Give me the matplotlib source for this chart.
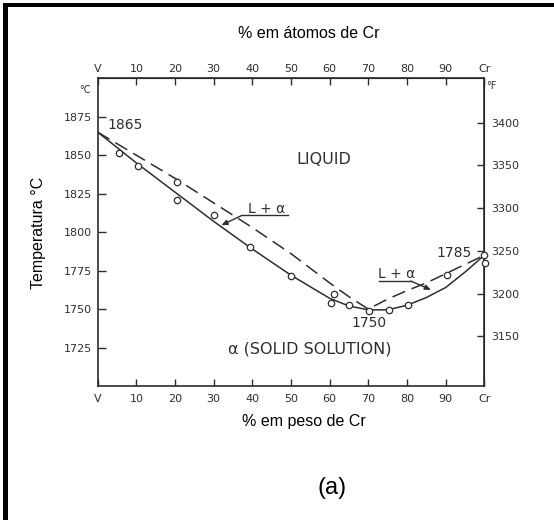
import matplotlib.pyplot as plt
import matplotlib.transforms as mtransforms
from matplotlib.patches import Rectangle

# V-Cr phase diagram: liquidus (dashed), solidus (solid) and measured points
wt_pct = [0, 10, 20, 30, 40, 50, 60, 65, 70, 75, 80, 85, 90, 95, 100]
solidus_c = [1865, 1845, 1826, 1807, 1789, 1772, 1757, 1752, 1749.5, 1749.5,
             1752.5, 1757.5, 1764, 1774, 1785]
liquidus_c = [1865, 1850, 1835, 1819, 1803, 1786, 1767, 1758, 1750, 1756.5,
              1762, 1767, 1773, 1779, 1785]

exp_wt = [5.5, 10.5, 20.4, 20.4, 30.2, 39.4, 49.9, 60.3, 61, 65.1, 70.3,
          75.3, 80.3, 90.3, 100, 100.3]
exp_c = [1851.6, 1843, 1832.5, 1820.6, 1811, 1790.5, 1771.5, 1754, 1760,
         1752.5, 1749, 1749.2, 1752.7, 1772.4, 1785, 1779.7]

x_ticks = [0, 10, 20, 30, 40, 50, 60, 70, 80, 90, 100]
x_labels = ['V', '10', '20', '30', '40', '50', '60', '70', '80', '90', 'Cr']
c_ticks = [1725, 1750, 1775, 1800, 1825, 1850, 1875]
f_ticks = [3150, 3200, 3250, 3300, 3350, 3400]

ink = '#2e2e2e'
W, H = 554, 520

fig = plt.figure(figsize=(W / 100, H / 100), dpi=100)
ax = fig.add_axes([97.7 / W, 1 - 386 / H, 386.6 / W, 307.7 / H])

ax.plot(wt_pct, solidus_c, color=ink, lw=1.1)
ax.plot(wt_pct, liquidus_c, color=ink, lw=1.1, dashes=(9, 4.5))
ax.plot(exp_wt, exp_c, 'o', mfc='white', mec=ink, ms=4.6, mew=0.9,
        clip_on=False, zorder=3)

ax.set_xlim(0, 100)
ax.set_ylim(1700, 1900)
for s in ax.spines.values():
    s.set_color(ink)
    s.set_linewidth(1.2)

ax.set_xticks(x_ticks)
ax.set_xticklabels(x_labels)
ax.set_yticks(c_ticks)
ax.tick_params(axis='x', direction='in', length=5, width=1, colors=ink,
               labelsize=8, pad=6)
ax.tick_params(axis='y', direction='in', length=6, width=1, colors=ink,
               labelsize=8, pad=4)

top = ax.secondary_xaxis('top')
top.set_xticks(x_ticks)
top.set_xticklabels(x_labels)
top.tick_params(direction='in', length=5, width=1, colors=ink, labelsize=8,
                pad=3)

right = ax.secondary_yaxis('right', functions=(lambda c: c * 9 / 5 + 32,
                                               lambda f: (f - 32) * 5 / 9))
right.set_yticks(f_ticks)
right.tick_params(direction='in', length=5, width=1, colors=ink, labelsize=8,
                  pad=5)

# unit marks at the top of both temperature scales
bt = mtransforms.blended_transform_factory(ax.transAxes, ax.transData)
ax.text(-0.033, 1892.7, '°C', transform=bt, ha='center', va='center',
        fontsize=7, color=ink)
ax.text(1.017, 1894.7, '°F', transform=bt, ha='center', va='center',
        fontsize=7, color=ink)

# labels inside the diagram
lab = dict(color=ink, ha='center', va='center', fontsize=10)
ax.text(7.1, 1869.4, '1865', **lab)
ax.text(58.6, 1847.3, 'LIQUID', color=ink, ha='center', va='center',
        fontsize=11.5)
ax.text(70.2, 1740.8, '1750', **lab)
ax.text(92.1, 1786.7, '1785', **lab)
ax.text(54.9, 1724, 'α (SOLID SOLUTION)', color=ink, ha='center',
        va='center', fontsize=11.5)

# two-phase region callouts
ax.text(43.7, 1814.8, 'L + α', **lab)
ax.plot([49.2, 37.3], [1810.9, 1810.9], color=ink, lw=1)
ax.annotate('', xy=(32, 1804.5), xytext=(37.3, 1810.9),
            arrowprops=dict(arrowstyle='-|>,head_length=0.35,head_width=0.15',
                            color=ink, lw=1, shrinkA=0, shrinkB=0))
ax.text(77.3, 1773, 'L + α', **lab)
ax.plot([72.8, 81], [1768.2, 1768.2], color=ink, lw=1)
ax.annotate('', xy=(86.2, 1762.5), xytext=(81, 1768.2),
            arrowprops=dict(arrowstyle='-|>,head_length=0.35,head_width=0.15',
                            color=ink, lw=1, shrinkA=0, shrinkB=0))

# axis titles
tf = dict(family=['Liberation Sans', 'DejaVu Sans'], color='black',
          ha='center', va='center')
fig.text(309 / W, 1 - 33 / H, '% em átomos de Cr', fontsize=11.5, **tf)
fig.text(304 / W, 1 - 421.7 / H, '% em peso de Cr', fontsize=11.5, **tf)
fig.text(39 / W, 1 - 233 / H, 'Temperatura °C', fontsize=11.5, rotation=90,
         **tf)
fig.text(332 / W, 1 - 488 / H, '(a)', fontsize=17, **tf)

# frame lines along the top and left edges
fig.add_artist(Rectangle((3 / W, 1 - 6.8 / H), (W - 3) / W, 3.5 / H,
                         transform=fig.transFigure, color='black', lw=0))
fig.add_artist(Rectangle((3.3 / W, 0), 5 / W, 1 - 3.3 / H,
                         transform=fig.transFigure, color='black', lw=0))

fig.savefig('out.png', dpi=100)
